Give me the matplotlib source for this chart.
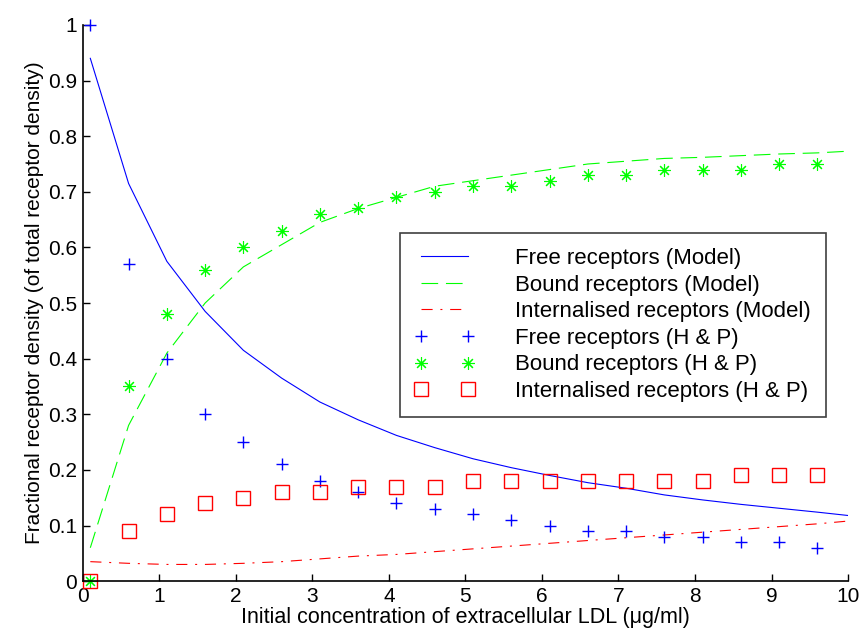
import numpy as np
from matplotlib import pyplot as plt

plt.rcParams['font.family'] = ['Liberation Sans', 'DejaVu Sans']

# H & P data points
x_data = [0.1, 0.6, 1.1, 1.6, 2.1, 2.6, 3.1, 3.6, 4.1, 4.6,
          5.1, 5.6, 6.1, 6.6, 7.1, 7.6, 8.1, 8.6, 9.1, 9.6]
free_hp = [1.0, 0.57, 0.40, 0.30, 0.25, 0.21, 0.18, 0.16, 0.14, 0.13,
           0.12, 0.11, 0.10, 0.09, 0.09, 0.08, 0.08, 0.07, 0.07, 0.06]
bound_hp = [0.0, 0.35, 0.48, 0.56, 0.60, 0.63, 0.66, 0.67, 0.69, 0.70,
            0.71, 0.71, 0.72, 0.73, 0.73, 0.74, 0.74, 0.74, 0.75, 0.75]
intern_hp = [0.0, 0.09, 0.12, 0.14, 0.15, 0.16, 0.16, 0.17, 0.17, 0.17,
             0.18, 0.18, 0.18, 0.18, 0.18, 0.18, 0.18, 0.19, 0.19, 0.19]

# model curves
x_model = [0.1, 0.6, 1.1, 1.6, 2.1, 2.6, 3.1, 3.6, 4.1, 4.6, 5.1,
           5.6, 6.1, 6.6, 7.1, 7.6, 8.1, 8.6, 9.1, 9.6, 10.0]
free_model = [0.94, 0.715, 0.575, 0.485, 0.415, 0.365, 0.322, 0.29, 0.262, 0.24, 0.22,
              0.204, 0.19, 0.177, 0.167, 0.155, 0.146, 0.138, 0.131, 0.124, 0.118]
bound_model = [0.06, 0.28, 0.41, 0.50, 0.565, 0.605, 0.645, 0.67, 0.69, 0.71, 0.72,
               0.73, 0.74, 0.75, 0.755, 0.76, 0.762, 0.765, 0.768, 0.77, 0.773]
intern_model = [0.035, 0.032, 0.03, 0.03, 0.032, 0.035, 0.04, 0.045, 0.048, 0.053, 0.058,
                0.063, 0.068, 0.073, 0.078, 0.083, 0.088, 0.093, 0.098, 0.103, 0.108]

fig = plt.figure(figsize=(8.61, 6.4), dpi=100)
ax = fig.add_axes([0.096, 0.092, 0.889, 0.869])

ax.plot(x_model, free_model, '-', color='#0000ff', lw=0.8, label='Free receptors (Model)')
ax.plot(x_model, bound_model, '--', color='#00ff00', lw=0.8, dashes=(15, 7),
        label='Bound receptors (Model)')
ax.plot(x_model, intern_model, '-.', color='#ff0000', lw=0.8, dashes=(10, 7, 1.8, 7),
        label='Internalised receptors (Model)')
ax.plot(x_data, free_hp, '+', color='#0000ff', ms=9, mew=1.0, clip_on=False,
        label='Free receptors (H & P)')
ax.plot(x_data, bound_hp, ls='none', marker=(8, 2, 0), color='#00ff00', ms=9, mew=0.8,
        clip_on=False, label='Bound receptors (H & P)')
ax.plot(x_data, intern_hp, 's', mfc='none', mec='#ff0000', ms=10, mew=1.0, clip_on=False,
        label='Internalised receptors (H & P)')

ax.set_xlim(0, 10)
ax.set_ylim(0, 1)
ax.set_xticks(range(0, 11))
ax.set_yticks(np.arange(0, 1.01, 0.1))
ax.set_yticklabels(['0', '0.1', '0.2', '0.3', '0.4', '0.5', '0.6', '0.7', '0.8', '0.9', '1'])
ax.tick_params(direction='in', length=5, width=1, labelsize=15, pad=4)
ax.spines['top'].set_visible(False)
ax.spines['right'].set_visible(False)
ax.spines['left'].set_linewidth(1.2)
ax.spines['bottom'].set_linewidth(1.2)

ax.set_xlabel('Initial concentration of extracellular LDL (\u03bcg/ml)', fontsize=15.5, labelpad=1)
ax.set_ylabel('Fractional receptor density (of total receptor density)', fontsize=15, labelpad=3)

leg = ax.legend(loc='upper left', bbox_to_anchor=(0.414, 0.626), fontsize=16,
                numpoints=2, handlelength=2.7, handletextpad=1.8, labelspacing=0.25,
                borderpad=0.68, borderaxespad=0, fancybox=False, framealpha=1,
                edgecolor='#404040')
leg.get_frame().set_linewidth(1.2)

fig.savefig('out.png', dpi=100)
